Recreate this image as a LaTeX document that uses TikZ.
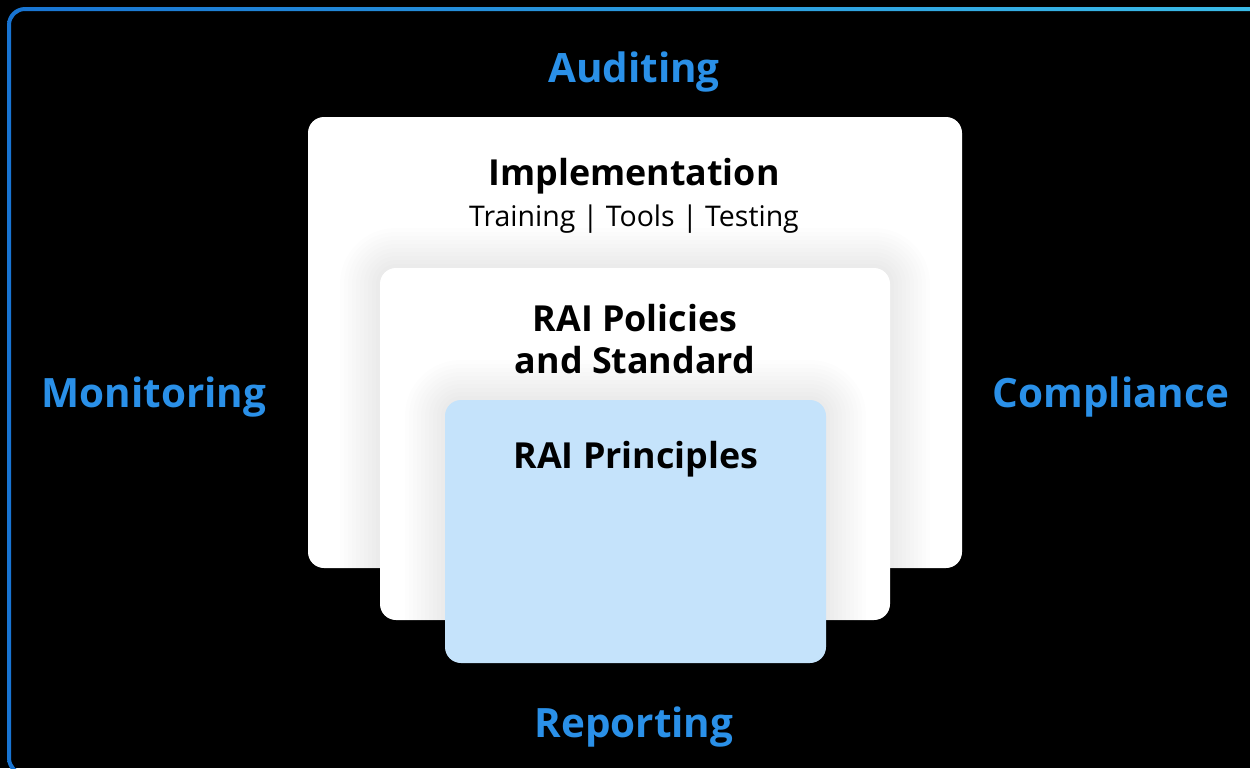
\documentclass[tikz,border=0pt]{standalone}
\usepackage{fontspec}
\setmainfont{Open Sans}
\usetikzlibrary{positioning}
\definecolor{labelblue}{HTML}{2A90E8}
\definecolor{frameleft}{HTML}{1874D2}
\definecolor{frameright}{HTML}{3BBCE8}
\definecolor{principleblue}{HTML}{C5E3FB}
\newcommand{\pxu}{0.02cm}
% soft grey shadow round a box given by its pixel corners
\newcommand{\softshadow}[4]{%
  \foreach \s in {4,8,...,40}
    \fill[black, opacity=0.007, rounded corners=0.32cm+\s*0.02cm]
      (#1-\s,#2-\s) rectangle (#3+\s,#4+\s);}

\begin{document}
\begin{tikzpicture}[x=0.02cm, y=-0.02cm,
    panel/.style={rectangle, rounded corners=0.32cm, inner sep=0pt, draw=none},
    outer/.style={text=labelblue, font=\bfseries\fontsize{23}{27}\selectfont},
    title/.style={font=\bfseries\fontsize{20.4}{24}\selectfont, align=center},
    sub/.style={font=\fontsize{16.2}{20}\selectfont}]
    \fill[black] (0,0) rectangle (1250,768);
    \useasboundingbox (0,0) rectangle (1250,768);
    \clip (0,0) rectangle (1250,768);

    % frame
    \shade[left color=frameleft, right color=frameright, even odd rule]
      [rounded corners=0.36cm] (7,7) rectangle (1268,776)
      [rounded corners=0.28cm] (11,11) rectangle (1264,772);

    \node[outer] (audit) at (634,72) {Auditing};
    \node[outer] (monitor) at (154,397) {Monitoring};
    \node[outer] (comply) at (1111,397) {Compliance};
    \node[outer] (report) at (634,727) {Reporting};

    \node[panel, fill=white, minimum width=654*\pxu, minimum height=451*\pxu] (impl) at (635,342.5) {};
    \softshadow{380}{268}{890}{620}
    \node[panel, fill=white, minimum width=510*\pxu, minimum height=352*\pxu] (policy) at (635,444) {};
    \softshadow{445}{400}{826}{663}
    \node[panel, fill=principleblue, minimum width=381*\pxu, minimum height=263*\pxu] (principle) at (635.5,531.5) {};

    \node[title] (impltitle) at (634,176) {Implementation};
    \node[sub] (impltools) at (634,219) {Training | Tools | Testing};
    \node[title] (policytitle) at (635,339) {RAI Policies\\and Standard};
    \node[title] (principletitle) at (636,459) {RAI Principles};
\end{tikzpicture}
\end{document}
